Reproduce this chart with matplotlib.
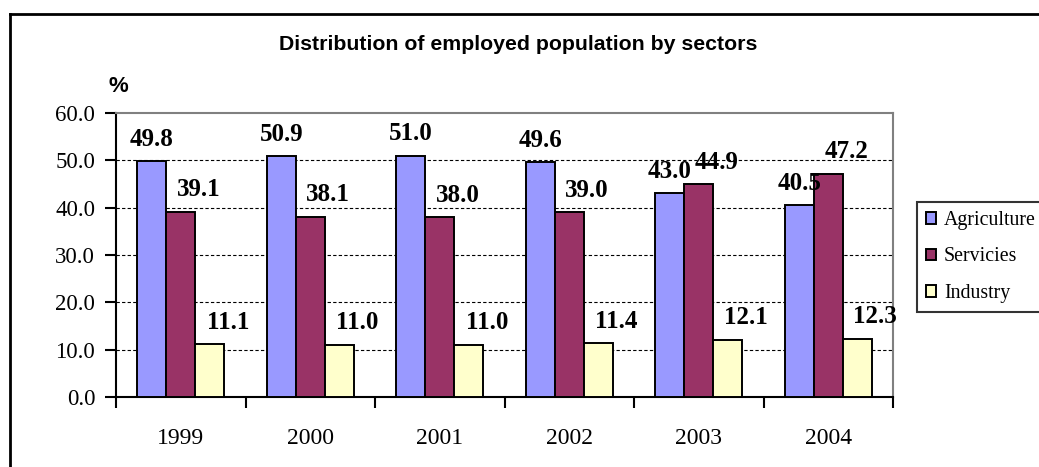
import numpy as np
import matplotlib
matplotlib.use('Agg')
import matplotlib.pyplot as plt
from matplotlib.lines import Line2D

years = ['1999', '2000', '2001', '2002', '2003', '2004']
agriculture = [49.8, 50.9, 51.0, 49.6, 43.0, 40.5]
servicies = [39.1, 38.1, 38.0, 39.0, 44.9, 47.2]
industry = [11.1, 11.0, 11.0, 11.4, 12.1, 12.3]

series = [
    ('Agriculture', agriculture, '#9999FF', 0),
    ('Servicies', servicies, '#993366', 18),
    ('Industry', industry, '#FFFFCC', 18),
]

W, H = 1039, 467
fig = plt.figure(figsize=(W / 100, H / 100), dpi=100)

# plot area in pixel coordinates
left, right, top, bottom = 116, 893, 113, 397
ax = fig.add_axes([left / W, 1 - bottom / H, (right - left) / W, (bottom - top) / H])

serif = 'Liberation Serif'
sans = 'Liberation Sans'

x = np.arange(len(years))
width = 0.224
for i, (name, vals, color, dx) in enumerate(series):
    pos = x + (i - 1) * width
    ax.bar(pos, vals, width, color=color, edgecolor='black', linewidth=1.4,
           label=name, zorder=3)
    for px, v in zip(pos, vals):
        ax.annotate(f'{v:.1f}', (px, v), xytext=(dx, 22), textcoords='offset pixels',
                    ha='center', va='center', fontsize=18, fontweight='bold',
                    family=serif, zorder=4)

ax.set_xlim(-0.5, len(years) - 0.5)
ax.set_ylim(0, 60)

# y axis
ax.set_yticks(np.arange(0, 61, 10))
ax.set_yticklabels([f'{v:.1f}' for v in np.arange(0, 61, 10)], family=serif, fontsize=16.5)
ax.tick_params(axis='y', direction='out', length=8, width=1.5, pad=7)
for v in range(10, 60, 10):
    ax.axhline(v, color='black', lw=0.8, ls=(0, (3, 2)), zorder=1)

# x axis: ticks at group boundaries, labels at centres
ax.set_xticks(np.arange(-0.5, len(years), 1.0))
ax.set_xticklabels([])
ax.tick_params(axis='x', which='major', direction='out', length=8, width=1.5)
ax.set_xticks(x, minor=True)
ax.set_xticklabels(years, minor=True, family=serif, fontsize=17)
ax.tick_params(axis='x', which='minor', length=0, pad=22)

for s in ['left', 'bottom']:
    ax.spines[s].set_linewidth(1.5)
    ax.spines[s].set_color('black')
for s in ['top', 'right']:
    ax.spines[s].set_linewidth(1.5)
    ax.spines[s].set_color('#808080')

fig.text(518 / W, 1 - 44 / H, 'Distribution of employed population by sectors',
         ha='center', va='center', fontsize=15.3, fontweight='bold', family=sans)
fig.text(118 / W, 1 - 86 / H, '%', ha='center', va='center', fontsize=16,
         fontweight='bold', family=sans)

leg = fig.legend(loc='upper left', bbox_to_anchor=(917 / W, 1 - 202 / H),
                 prop={'family': serif, 'size': 14.3}, frameon=True, fancybox=False,
                 handlelength=0.5, handleheight=0.5, handletextpad=0.4,
                 labelspacing=0.88, borderpad=0.45, borderaxespad=0)
leg.get_frame().set_edgecolor('black')
leg.get_frame().set_linewidth(1.5)

# outer frame (left and top edges)
fig.add_artist(Line2D([10 / W, 10 / W], [0, 1 - 14 / H], color='black', lw=2,
                      transform=fig.transFigure))
fig.add_artist(Line2D([10 / W, 1], [1 - 14 / H, 1 - 14 / H], color='black', lw=2,
                      transform=fig.transFigure))

fig.savefig('out.png', dpi=100)
